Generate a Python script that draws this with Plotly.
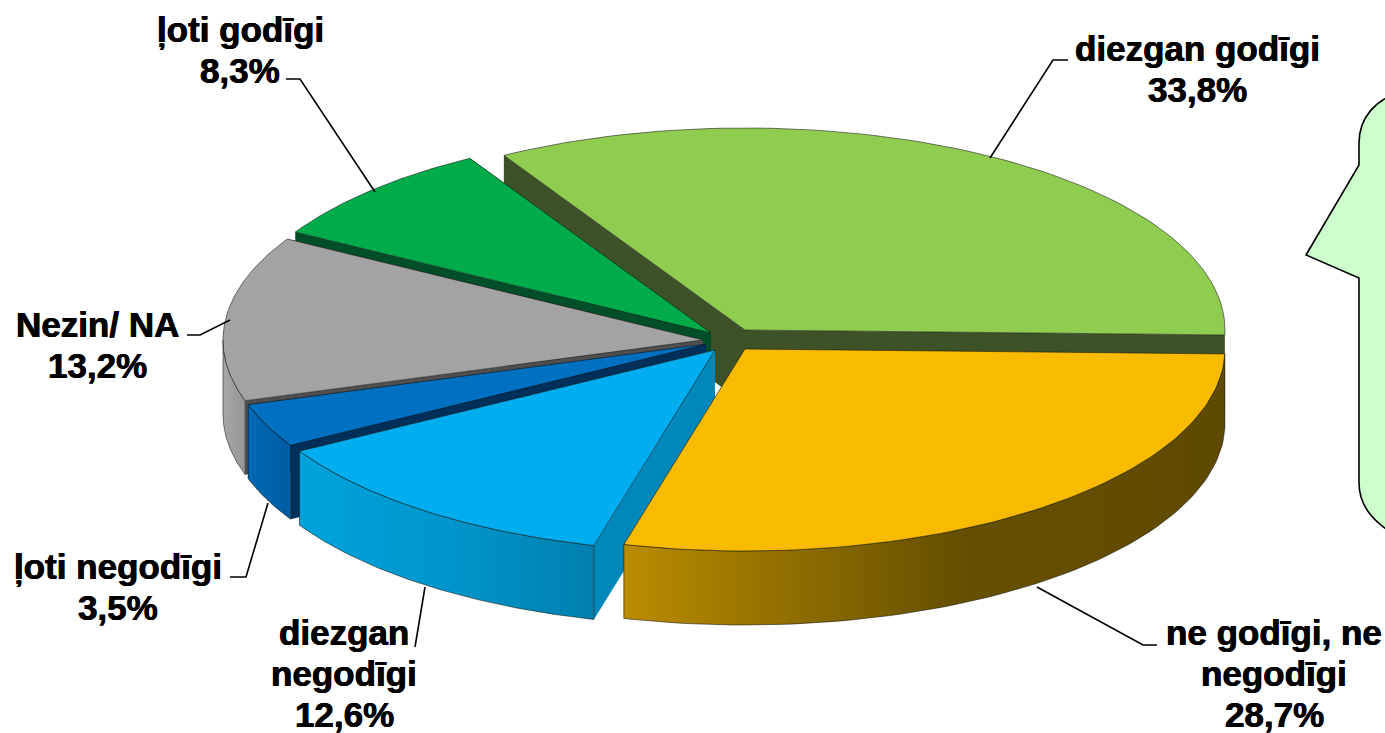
import math
import plotly.graph_objects as go

# ---- data ----
categories = ["diezgan godīgi", "ļoti godīgi", "Nezin/ NA", "ļoti negodīgi",
              "diezgan negodīgi", "ne godīgi, ne negodīgi"]
values = [33.8, 8.3, 13.2, 3.5, 12.6, 28.7]
label_texts = ["diezgan godīgi<br>33,8%", "ļoti godīgi<br>8,3%", "Nezin/ NA<br>13,2%",
               "ļoti negodīgi<br>3,5%", "diezgan<br>negodīgi<br>12,6%",
               "ne godīgi, ne<br>negodīgi<br>28,7%"]
top_colors = ["#8FCC50", "#00AC4A", "#A3A3A3", "#0070C0", "#00AEEF", "#F9BB00"]
cut_colors = ["#3D5226", "#004F28", "#4F4F4F", "#00305A", "#0088BB", "#7F6000"]
wall_scales = [
    [[0, "#5F8A35"], [1, "#5F8A35"]],
    [[0, "#007A38"], [1, "#007A38"]],
    [[0, "#A6A6A6"], [1, "#969696"]],
    [[0, "#0068B4"], [1, "#005CA0"]],
    [[0, "#00A2DC"], [0.5, "#0096CC"], [1, "#007FAE"]],
    [[0, "#BA8C00"], [0.55, "#665000"], [1, "#5E4A00"]],
]

# ---- projection geometry (pixels) ----
RX, RY, DEPTH = 480, 202, 74
START_DEG = -1.4
apex = [(745, 330), (711, 333), (703, 340), (706, 344), (715, 350), (745, 349)]
draw_order = [0, 1, 2, 3, 4, 5]
N = 80
total = sum(values)

# cumulative angles: slices advance counter-clockwise from START_DEG
angles = [START_DEG]
for v in values:
    angles.append(angles[-1] + 360 * v / total)


def arc(cx, cy, a0, a1, dy=0):
    pts = []
    for k in range(N + 1):
        a = math.radians(a0 + (a1 - a0) * k / N)
        pts.append((cx + RX * math.cos(a), cy - RY * math.sin(a) + dy))
    return pts


EDGE = dict(color="rgba(20,20,20,0.7)", width=0.8)


def poly(pts, color=None, gradient=None, line=EDGE):
    xs = [p[0] for p in pts] + [pts[0][0]]
    ys = [p[1] for p in pts] + [pts[0][1]]
    kw = dict(x=xs, y=ys, mode="lines", fill="toself", line=line,
              hoverinfo="skip", showlegend=False)
    if gradient:
        kw["fillgradient"] = dict(type="horizontal", colorscale=gradient)
    else:
        kw["fillcolor"] = color
    return go.Scatter(**kw)


fig = go.Figure()
for i in draw_order:
    cx, cy = apex[i]
    a0, a1 = angles[i], angles[i + 1]
    top = arc(cx, cy, a0, a1)
    # two cut faces
    for p_end in (top[0], top[-1]):
        fig.add_trace(poly([(cx, cy), p_end, (p_end[0], p_end[1] + DEPTH), (cx, cy + DEPTH)],
                           color=cut_colors[i], line=dict(width=0)))
    # rim: only the front half of the ellipse faces the viewer
    r0 = max(a0, 180)
    if a1 > r0:
        fig.add_trace(poly(arc(cx, cy, r0, a1) + arc(cx, cy, r0, a1, DEPTH)[::-1],
                           gradient=wall_scales[i]))
    # top face
    fig.add_trace(poly([(cx, cy)] + top, color=top_colors[i]))

# ---- leader lines ----
leaders = [
    ([1068, 1053, 990], [60, 60, 158]),
    ([286, 300, 375], [79, 79, 192]),
    ([187, 200, 230], [335, 335, 320]),
    ([230, 246, 268], [577, 577, 503]),
    ([415, 425], [647, 587]),
    ([1157, 1143, 1037], [645, 645, 587]),
]
for lx, ly in leaders:
    fig.add_trace(go.Scatter(x=lx, y=ly, mode="lines", line=dict(color="black", width=1.6),
                             hoverinfo="skip", showlegend=False))

# ---- labels: one annotation per line so the line pitch can be tighter than the default ----
LINE_PITCH = 41
FONT = dict(family="Liberation Sans", size=35, color="black", weight=700,
            shadow="0.4px 0 0 black, -0.4px 0 0 black")
label_pos = [(1197, 69), (240, 50), (97, 345), (118, 587), (344, 673), (1274, 673)]
annotations = []
for (x, y), t in zip(label_pos, label_texts):
    lines = t.split("<br>")
    for n, line in enumerate(lines):
        annotations.append(dict(x=x, y=y + (n - (len(lines) - 1) / 2) * LINE_PITCH, text=line,
                                showarrow=False, xanchor="center", yanchor="middle",
                                font=FONT))

# ---- callout bubble, cut off by the right edge ----
callout = ("M 1420,88 L 1400,92 C 1375,100 1359,118 1359,143 L 1359,165 L 1306,255 L 1359,278 "
           "L 1359,483 C 1359,505 1372,522 1400,538 L 1420,544 Z")

fig.update_layout(
    width=1385, height=733, margin=dict(l=0, r=0, t=0, b=0),
    paper_bgcolor="white", plot_bgcolor="white", showlegend=False,
    xaxis=dict(range=[0, 1385], visible=False, fixedrange=True),
    yaxis=dict(range=[733, 0], visible=False, fixedrange=True),
    annotations=annotations,
    shapes=[dict(type="path", path=callout, fillcolor="#CCFFCC",
                 line=dict(color="black", width=1.6), layer="below")],
)
fig.write_html("out.html", config={"displayModeBar": False},
               post_script="document.body.style.margin='0';")
